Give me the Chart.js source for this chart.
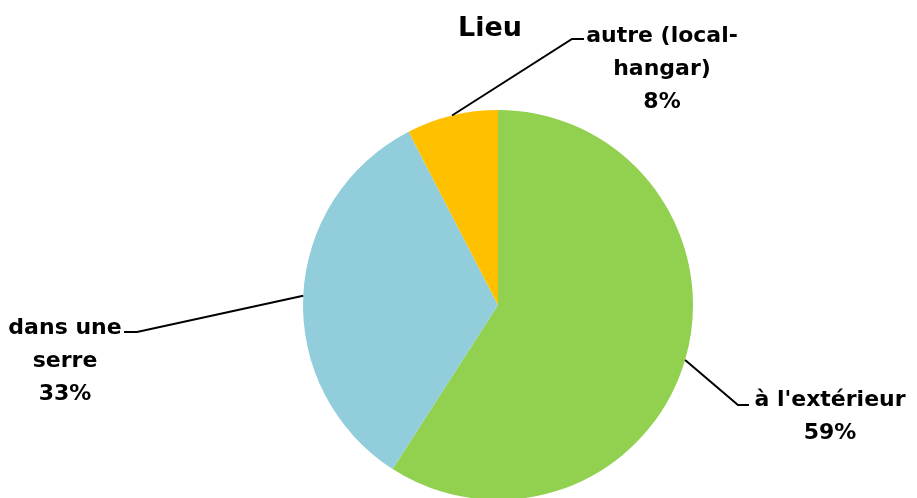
<!DOCTYPE html>
<html>
<head>
<meta charset="utf-8">
<script src="https://cdn.jsdelivr.net/npm/chart.js@4"></script>
<style>
html,body{margin:0;padding:0;background:#fff;overflow:hidden;}
#wrap{width:917px;height:610px;}
</style>
</head>
<body>
<div id="wrap"><canvas id="c" width="917" height="610"></canvas></div>
<script>
const title = "Lieu";
const categories = ["à l'extérieur", "dans une serre", "autre (local-hangar)"];
const labelLines = [["à l'extérieur"], ["dans une", "serre"], ["autre (local-", "hangar)"]];
const values = [78, 44, 10];
const colors = ["#92D050", "#92CDDC", "#FFC000"];

const FONT = "bold 22px 'DejaVu Sans', sans-serif";
// label layout: elbow point, horizontal end, text center x, first line y
const labelLayout = [
  {elbow:[738,405], end:[749,405], tx:830, ty:400},
  {elbow:[137,332], end:[124,332], tx:65, ty:328},
  {elbow:[572,39], end:[584,39], tx:662, ty:36}
];

const labelPlugin = {
  id: 'pieLabels',
  afterDraw(chart) {
    const ctx = chart.ctx;
    const meta = chart.getDatasetMeta(0);
    const total = values.reduce((a,b)=>a+b,0);
    ctx.save();
    ctx.fillStyle = '#000';
    ctx.font = "bold 27px 'DejaVu Sans', sans-serif";
    ctx.textAlign = 'center';
    ctx.textBaseline = 'middle';
    ctx.fillText(title, 490, 29);
    meta.data.forEach((arc, i) => {
      const p = arc.getProps(['x','y','startAngle','endAngle','outerRadius'], true);
      const mid = (p.startAngle + p.endAngle) / 2;
      const sx = p.x + Math.cos(mid) * p.outerRadius;
      const sy = p.y + Math.sin(mid) * p.outerRadius;
      const L = labelLayout[i];
      ctx.strokeStyle = '#000';
      ctx.lineWidth = 2;
      ctx.beginPath();
      ctx.moveTo(sx, sy);
      ctx.lineTo(L.elbow[0], L.elbow[1]);
      ctx.lineTo(L.end[0], L.end[1]);
      ctx.stroke();
      ctx.font = FONT;
      const lines = labelLines[i].concat([Math.round(values[i] / total * 100) + '%']);
      lines.forEach((t, k) => ctx.fillText(t, L.tx, L.ty + k * 33));
    });
    ctx.restore();
  }
};

new Chart(document.getElementById('c'), {
  type: 'pie',
  data: {
    labels: categories,
    datasets: [{
      data: values,
      backgroundColor: colors,
      borderWidth: 0,
      radius: 195
    }]
  },
  options: {
    responsive: false,
    animation: false,
    layout: { padding: { left: 79 } },
    plugins: { legend: { display: false }, tooltip: { enabled: false }, title: { display: false } }
  },
  plugins: [labelPlugin]
});
</script>
</body>
</html>
